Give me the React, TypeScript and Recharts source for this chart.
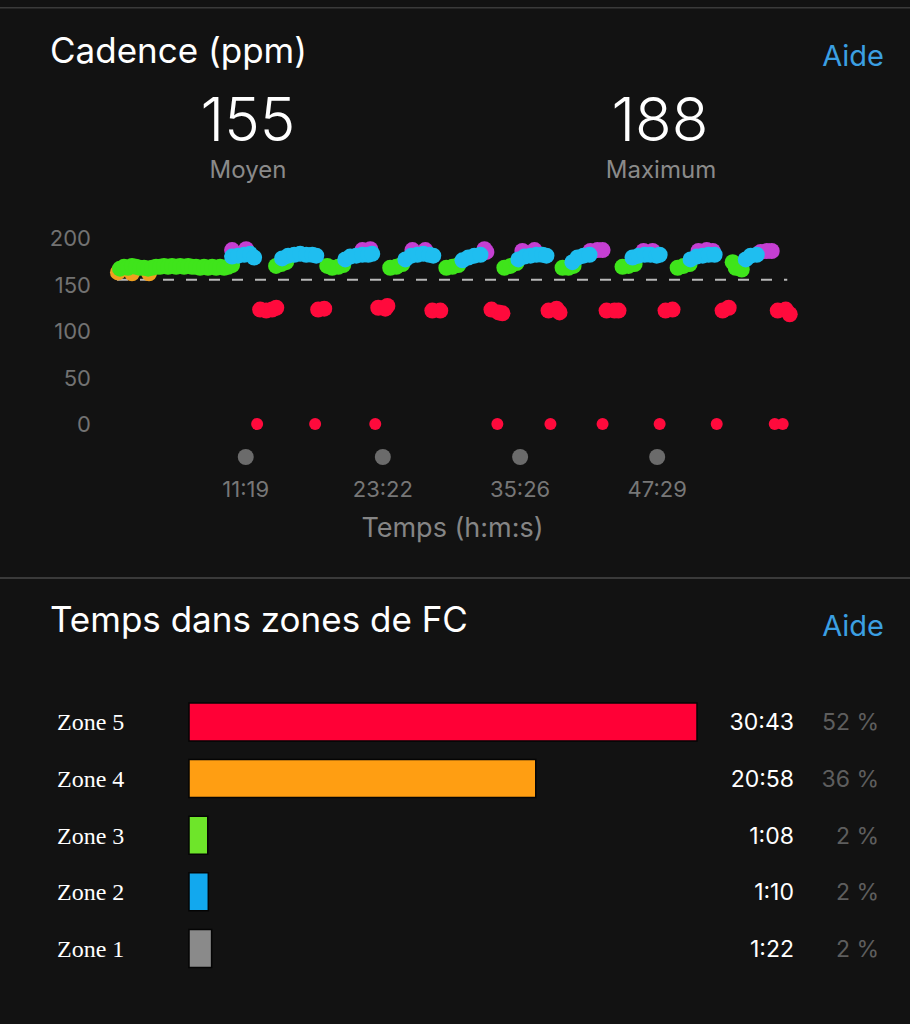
import React from 'react';
import {
  ScatterChart, Scatter, XAxis, YAxis, ReferenceLine, Label,
  BarChart, Bar, Cell,
} from 'recharts';

// ---------- Cadence data: [time (s), cadence (ppm)] ----------
const warmupOrange: [number, number][] = [[5, 163], [79, 162], [169, 162]];
const greenPts: [number, number][] = [
  [16, 167], [37, 169], [58, 168], [79, 170], [100, 169], [121, 168], [143, 168], [164, 167],
  [185, 168], [206, 169], [227, 169], [248, 170], [269, 169], [290, 170], [312, 169], [333, 170],
  [354, 169], [375, 170], [396, 169], [417, 169], [438, 168], [459, 169], [480, 168], [502, 169],
  [523, 168], [544, 169], [565, 168], [586, 169], [607, 171],
  [839, 170], [866, 172], [892, 174],
  [1109, 170], [1135, 168], [1167, 169], [1193, 171],
  [1441, 168], [1473, 169], [1505, 172],
  [1737, 168], [1769, 169], [1800, 171],
  [2043, 168], [2075, 170], [2107, 173],
  [2350, 168], [2381, 168], [2408, 170],
  [2666, 169], [2698, 170], [2730, 172],
  [2957, 168], [2988, 170], [3020, 172],
  [3247, 174], [3263, 168], [3295, 166],
];
const cyanPts: [number, number][] = [
  [607, 180], [639, 181], [671, 182], [702, 183], [723, 179],
  [871, 178], [903, 181], [935, 182], [966, 183], [998, 182], [1030, 182], [1051, 181],
  [1204, 177], [1230, 180], [1262, 181], [1294, 182], [1325, 182], [1346, 183],
  [1521, 177], [1552, 181], [1584, 182], [1616, 183], [1647, 182], [1668, 181],
  [1822, 176], [1853, 179], [1885, 181], [1917, 182],
  [2117, 177], [2149, 180], [2181, 181], [2212, 182], [2244, 182], [2265, 181],
  [2402, 174], [2429, 179], [2460, 181], [2492, 182],
  [2719, 179], [2751, 181], [2783, 182], [2814, 182], [2846, 181], [2862, 182],
  [3025, 177], [3057, 180], [3089, 181], [3120, 182], [3152, 182],
  [3316, 177], [3342, 181], [3374, 182],
];
const magentaPts: [number, number][] = [
  [607, 187], [681, 188],
  [1294, 187], [1336, 188],
  [1558, 187], [1626, 187],
  [1938, 188], [1948, 185],
  [2138, 186], [2202, 187],
  [2497, 186], [2534, 187], [2561, 187],
  [2777, 186], [2825, 186],
  [3067, 186], [3110, 187], [3142, 186],
  [3395, 185], [3427, 186], [3453, 186],
];
const redPts: [number, number][] = [
  [755, 123], [787, 122], [818, 123], [840, 125],
  [1061, 123], [1093, 124],
  [1378, 125], [1415, 124], [1426, 127],
  [1663, 122], [1705, 122],
  [1975, 123], [2012, 120], [2033, 119],
  [2276, 122], [2318, 124], [2334, 120],
  [2582, 122], [2624, 122], [2645, 122],
  [2893, 122], [2930, 123],
  [3194, 122], [3226, 125],
  [3485, 122], [3527, 123], [3548, 118],
];
const zeroPts: [number, number][] = [
  [739, 0], [1045, 0], [1362, 0], [2006, 0], [2286, 0], [2561, 0], [2862, 0], [3163, 0], [3469, 0], [3511, 0],
];

const timeTicks = [679, 1402, 2126, 2849];
const timeTickLabels = ['11:19', '23:22', '35:26', '47:29'];
const cadenceTicks = [0, 50, 100, 150, 200];
const avgCadence = 155;
const maxCadence = 188;

// ---------- HR zones ----------
const zoneNames = ['Zone 5', 'Zone 4', 'Zone 3', 'Zone 2', 'Zone 1'];
const zoneSeconds = [1843, 1258, 68, 70, 82];
const zoneTimes = ['30:43', '20:58', '1:08', '1:10', '1:22'];
const zonePercents = ['52 %', '36 %', '2 %', '2 %', '2 %'];
const zoneColors = ['#ff0036', '#ff9e12', '#6ee52a', '#12a8ee', '#8a8a8a'];

const SANS = 'Inter, "Noto Sans", sans-serif';

const toPts = (arr: [number, number][]) => arr.map(([t, c]) => ({ t, c }));

const dot = (color: string, r: number) => (props: any) =>
  props.cx == null ? <g /> : <circle cx={props.cx} cy={props.cy} r={r} fill={color} />;

const XTick = (props: any) => {
  const { x, y, payload } = props;
  const i = timeTicks.indexOf(payload.value);
  return (
    <g>
      <circle cx={x} cy={y + 33} r={8} fill="#6b6b6b" />
      <text x={x} y={y + 65} textAnchor="middle" dominantBaseline="central"
        fontFamily={SANS} fontSize={22} fill="#777">{timeTickLabels[i]}</text>
    </g>
  );
};

const YTick = (props: any) => {
  const { x, y, payload } = props;
  return (
    <text x={x} y={y} textAnchor="end" dominantBaseline="central"
      fontFamily={SANS} fontSize={22} fill="#727272">{payload.value}</text>
  );
};

const ZoneTick = (props: any) => {
  const { y, payload } = props;
  return (
    <text x={57} y={y} dominantBaseline="central"
      fontFamily='"Liberation Serif", "Times New Roman", serif' fontSize={24} fill="#fff">{payload.value}</text>
  );
};

const ZoneRightTick = (props: any) => {
  const { x, y, payload } = props;
  const i = zoneNames.indexOf(payload.value);
  return (
    <g>
      <text x={x + 97} y={y} textAnchor="end" dominantBaseline="central"
        fontFamily={SANS} fontSize={23} fill="#fff">{zoneTimes[i]}</text>
      <text x={x + 182} y={y} textAnchor="end" dominantBaseline="central"
        fontFamily={SANS} fontSize={23} fill="#5e5e5e">{zonePercents[i]}</text>
    </g>
  );
};

const zoneData = zoneNames.map((zone, i) => ({ zone, secs: zoneSeconds[i] }));

export default function App() {
  return (
    <div style={{ position: 'absolute', left: 0, top: 0, width: 910, height: 1024, background: '#121212', overflow: 'hidden' }}>
      <svg width={910} height={1024} style={{ position: 'absolute', left: 0, top: 0 }}>
        <rect x={0} y={7} width={910} height={1.5} fill="#3a3a3a" />
        <text x={50} y={63} fontFamily={SANS} fontSize={35} fill="#fff">Cadence (ppm)</text>
        <text x={884} y={66} textAnchor="end" fontFamily={SANS} fontSize={29} fill="#3b9fe2">Aide</text>
        <text x={248} y={141} textAnchor="middle" fontFamily={SANS} fontSize={60} fontWeight={300} fill="#fff">{avgCadence}</text>
        <text x={248} y={178} textAnchor="middle" fontFamily={SANS} fontSize={24} fill="#8a8a8a">Moyen</text>
        <text x={660} y={141} textAnchor="middle" fontFamily={SANS} fontSize={60} fontWeight={300} fill="#fff">{maxCadence}</text>
        <text x={661} y={178} textAnchor="middle" fontFamily={SANS} fontSize={24} fill="#8a8a8a">Maximum</text>
        <rect x={0} y={577} width={910} height={2} fill="#3a3a3a" />
        <text x={50} y={632} fontFamily={SANS} fontSize={35} fill="#fff">Temps dans zones de FC</text>
        <text x={884} y={636} textAnchor="end" fontFamily={SANS} fontSize={29} fill="#3b9fe2">Aide</text>
      </svg>

      <div style={{ position: 'absolute', left: 0, top: 0 }}>
        <ScatterChart width={910} height={560} margin={{ top: 238, right: 118, bottom: 16, left: 0 }}>
          <XAxis type="number" dataKey="t" domain={[0, 3560]} ticks={timeTicks} tick={<XTick />}
            axisLine={false} tickLine={false} tickSize={0} tickMargin={0} height={120} interval={0}>
            <Label content={(p: any) => {
              const vb = p.viewBox || {};
              return (
                <text x={vb.x + vb.width / 2 - 2} y={vb.y + 103} textAnchor="middle" dominantBaseline="central"
                  fontFamily={SANS} fontSize={27} fill="#858585">Temps (h:m:s)</text>
              );
            }} />
          </XAxis>
          <YAxis type="number" dataKey="c" domain={[0, 200]} ticks={cadenceTicks} tick={<YTick />}
            axisLine={false} tickLine={false} tickSize={0} tickMargin={26} width={117} interval={0} />
          <ReferenceLine segment={[{ x: 0, y: avgCadence }, { x: 3535, y: avgCadence }]}
            stroke="#b8b8b8" strokeWidth={2} strokeDasharray="11 12" />
          <Scatter data={toPts(zeroPts)} fill="#ff0a3c" shape={dot('#ff0a3c', 6)} isAnimationActive={false} />
          <Scatter data={toPts(redPts)} fill="#ff0a3c" shape={dot('#ff0a3c', 8)} isAnimationActive={false} />
          <Scatter data={toPts(warmupOrange)} fill="#ff9e12" shape={dot('#f0a020', 8)} isAnimationActive={false} />
          <Scatter data={toPts(magentaPts)} fill="#c33fd0" shape={dot('#c53fd2', 8)} isAnimationActive={false} />
          <Scatter data={toPts(greenPts)} fill="#3ee21a" shape={dot('#3fe41b', 8)} isAnimationActive={false} />
          <Scatter data={toPts(cyanPts)} fill="#1fbdf2" shape={dot('#1fbef0', 8)} isAnimationActive={false} />
        </ScatterChart>
      </div>

      <div style={{ position: 'absolute', left: 0, top: 680 }}>
        <BarChart width={910} height={312} layout="vertical" data={zoneData}
          margin={{ top: 14, right: 0, bottom: 15, left: 0 }}>
          <XAxis type="number" dataKey="secs" domain={[0, 1843]} hide />
          <YAxis yAxisId="left" type="category" dataKey="zone" width={189} tick={<ZoneTick />}
            axisLine={false} tickLine={false} tickSize={0} tickMargin={0} interval={0} />
          <YAxis yAxisId="right" orientation="right" type="category" dataKey="zone" width={213}
            tick={<ZoneRightTick />} axisLine={false} tickLine={false} tickSize={0} tickMargin={0} interval={0} />
          <Bar yAxisId="left" dataKey="secs" barSize={38} stroke="#050505" strokeWidth={1.5} isAnimationActive={false}>
            {zoneData.map((d, i) => <Cell key={d.zone} fill={zoneColors[i]} />)}
          </Bar>
        </BarChart>
      </div>
    </div>
  );
}
